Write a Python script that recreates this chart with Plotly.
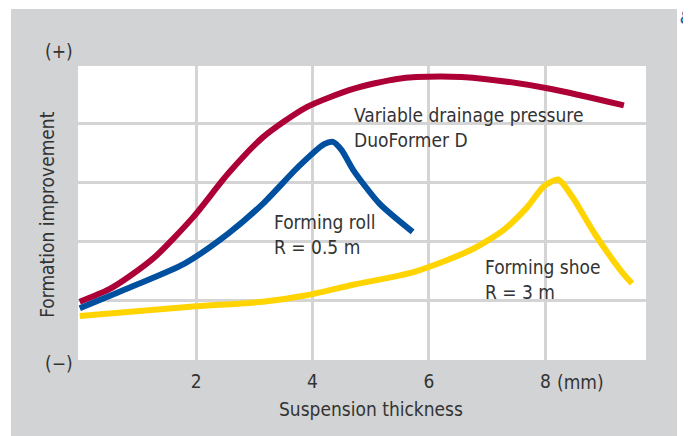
from plotly import graph_objects as go

# Suspension thickness (mm) vs. formation improvement (arbitrary scale, 0 = (-), 5 = (+))
red_x = [0.0, 0.5, 0.85, 1.3, 1.95, 2.55, 3.15, 3.9, 4.7, 5.45, 6.2, 6.95, 8.1, 9.35]
red_y = [0.97, 1.18, 1.40, 1.74, 2.41, 3.15, 3.77, 4.28, 4.59, 4.76, 4.80, 4.76, 4.59, 4.31]

blue_x = [0.0, 0.9, 1.8, 2.55, 3.15, 3.75, 4.2, 4.35, 4.5, 4.7, 5.15, 5.72]
blue_y = [0.86, 1.23, 1.62, 2.13, 2.64, 3.26, 3.65, 3.69, 3.55, 3.21, 2.64, 2.16]

yellow_x = [0.0, 1.95, 3.15, 3.9, 4.7, 5.75, 6.72, 7.28, 7.69, 7.97, 8.22, 8.46, 8.86, 9.29, 9.49]
yellow_y = [0.73, 0.89, 0.97, 1.08, 1.26, 1.48, 1.85, 2.19, 2.58, 2.93, 3.05, 2.76, 2.11, 1.51, 1.28]

x_ticks = [2, 4, 6, 8]
y_grid = [1, 2, 3, 4]

FONT = "Liberation Sans Narrow, DejaVu Sans Condensed, Arial Narrow, sans-serif"
TEXT = "#333333"
GRAY = "#d2d3d5"

fig = go.Figure()
for xs, ys, color in [
    (red_x, red_y, "#ac0036"),
    (blue_x, blue_y, "#0050a0"),
    (yellow_x, yellow_y, "#ffd400"),
]:
    fig.add_trace(
        go.Scatter(
            x=xs, y=ys, mode="lines",
            line=dict(color=color, width=6, shape="spline", smoothing=0.7),
            hoverinfo="skip", showlegend=False,
        )
    )

# gray panel behind the white plot area
fig.add_shape(type="rect", xref="paper", yref="paper", x0=-0.118, x1=1.0546, y0=-0.3, y1=1.194,
              fillcolor=GRAY, line_width=0, layer="below")
fig.add_shape(type="rect", xref="paper", yref="paper", x0=0, x1=1, y0=0, y1=1,
              fillcolor="white", line_width=0, layer="below")

labels = [
    (4.68, 3.93, "Variable drainage pressure<br>DuoFormer D"),
    (3.31, 2.12, "Forming roll<br>R = 0.5 m"),
    (6.93, 1.35, "Forming shoe<br>R = 3 m"),
]
for x, y, text in labels:
    fig.add_annotation(x=x, y=y, text=text, showarrow=False, xanchor="left", yanchor="middle",
                       align="left", font=dict(family=FONT, size=19, color=TEXT))

paper_notes = [
    (-0.0335, 1.051, "(+)", "center", 0),
    (-0.0335, -0.01, "(−)", "center", 0),
    (-0.0546, 0.497, "Formation improvement", "center", -90),
    (0.515, -0.167, "Suspension thickness", "center", 0),
    (0.840, -0.075, "(mm)", "left", 0),
]
for x, y, text, anchor, angle in paper_notes:
    fig.add_annotation(x=x, y=y, xref="paper", yref="paper", text=text, showarrow=False,
                       xanchor=anchor, yanchor="middle", textangle=angle,
                       font=dict(family=FONT, size=19, color=TEXT))

# cut-off page marker at the top right edge
fig.add_annotation(x=1.057, y=1.168, xref="paper", yref="paper", text="<i>8</i>", showarrow=False,
                   xanchor="left", yanchor="middle", font=dict(family=FONT, size=20, color="#1a5aa8"))

fig.update_xaxes(range=[-0.03, 9.73], tickvals=x_ticks, ticks="", ticklabelstandoff=8,
                 showgrid=True, gridcolor="#d4d4d4", gridwidth=3, zeroline=False, showline=False,
                 tickfont=dict(family=FONT, size=19, color=TEXT))
fig.update_yaxes(range=[-0.02, 4.98], tickvals=y_grid, showticklabels=False, ticks="",
                 showgrid=True, gridcolor="#d4d4d4", gridwidth=3, zeroline=False, showline=False)

# the page body adds an 8 px margin, so the figure is 8 px smaller and shifted
fig.update_layout(
    width=683, height=428,
    margin=dict(l=70, r=45, t=58, b=76, autoexpand=False),
    paper_bgcolor="white", plot_bgcolor="white",
    font=dict(family=FONT, color=TEXT),
)

fig.write_html("out.html")
